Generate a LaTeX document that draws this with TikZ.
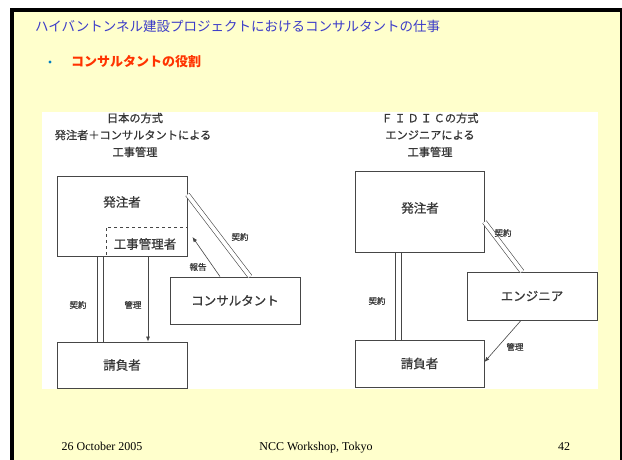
\documentclass[tikz,border=0pt]{standalone}
\usepackage{fontspec}
\setmainfont{Liberation Serif}
\newfontfamily\jp{Noto Sans CJK JP}
\newfontfamily\jpd[FakeBold=0.7]{Noto Sans CJK JP}
\usetikzlibrary{calc,arrows.meta}
\definecolor{slidebg}{RGB}{255,255,204}
\definecolor{titleblue}{RGB}{60,60,200}
\definecolor{bulletred}{RGB}{255,51,0}
\definecolor{dotblue}{RGB}{0,128,192}
\definecolor{ink}{RGB}{55,55,55}
\definecolor{lineink}{RGB}{70,70,70}
\begin{document}
\begin{tikzpicture}[x=1pt,y=-1pt,
  box/.style={draw=lineink,line width=0.9pt,inner sep=0pt,text=ink,font=\jpd\fontsize{12.5}{14}\selectfont},
  boxtext/.style={text=ink,inner sep=0pt,font=\jpd\fontsize{12.5}{14}\selectfont},
  dashbox/.style={draw=lineink,line width=0.9pt,dashed,inner sep=0pt},
  dbl/.style={draw=lineink,double=white,double distance=3.8pt,line width=0.6pt},
  thin/.style={draw=lineink,line width=0.6pt},
  arr/.style={draw=lineink,line width=0.6pt,-{Latex[length=5pt,width=4pt]}},
  lbl/.style={text=ink,inner sep=0pt,font=\jpd\fontsize{8.5}{10}\selectfont},
  ttl/.style={text=ink,inner sep=0pt,font=\jpd\fontsize{11.2}{12}\selectfont},
  foot/.style={inner sep=0pt,anchor=base,font=\fontsize{12}{14}\selectfont}]
\useasboundingbox (0,0) rectangle (622,459);
\fill[white] (0,0) rectangle (622,459);
\begin{scope}
  \clip (0,0) rectangle (622,459);
  \fill[black] (10,8) rectangle (622,470);
  \fill[slidebg] (14,12) rectangle (620,470);
\end{scope}
% heading
\node[anchor=west,inner sep=0pt,text=titleblue,font=\jp\fontsize{13.5}{15}\selectfont] (title) at (35,26)
  {ハイバントンネル建設プロジェクトにおけるコンサルタントの仕事};
\node[circle,fill=dotblue,inner sep=0pt,minimum size=3.2pt] (dot) at (50,62) {};
\node[anchor=west,inner sep=0pt,text=bulletred,font=\jp\bfseries\fontsize{13}{15}\selectfont] (role) at (71,62)
  {コンサルタントの役割};
% picture panel
\fill[white] (42,112) rectangle (598,389);
% ---- left diagram
\node[ttl] (lt1) at (135,118) {日本の方式};
\node[ttl] (lt2) at (133,135) {発注者＋コンサルタントによる};
\node[ttl] (lt3) at (135,152) {工事管理};
\node[dashbox,minimum width=81pt,minimum height=29pt] (kanri) at (146.5,241.5) {};
\node[box,minimum width=130pt,minimum height=80pt] (hacchu) at (122,216) {};
\node[boxtext] (hacchuL) at (122,202) {発注者};
\node[boxtext] (kanriL) at (145,244) {工事管理者};
\node[box,minimum width=130pt,minimum height=46pt] (uke) at (122,365) {請負者};
\node[box,minimum width=130pt,minimum height=47pt] (consul) at (235,300.5) {コンサルタント};
\draw[thin] ($(hacchu.south)+(-25,0)$) -- ($(uke.north)+(-25,0)$);
\draw[thin] ($(hacchu.south)+(-19,0)$) -- ($(uke.north)+(-19,0)$);
\draw[arr] ($(hacchu.south)+(26,0)$) -- ($(uke.north)+(26,0)$);
\draw[dbl] ($(hacchu.north east)+(0,19)$) -- ($(consul.north)+(15,0)$);
\draw[arr] ($(consul.north)+(-15,0)$) -- ($(hacchu.east)+(5,21)$);
\node[lbl] (l1) at (78,305) {契約};
\node[lbl] (l2) at (133,305) {管理};
\node[lbl] (l3) at (240,237) {契約};
\node[lbl] (l4) at (198,267) {報告};
% ---- right diagram
\node[ttl] (rt1) at (430,118) {Ｆ\,Ｉ\,Ｄ\,Ｉ\,Ｃの方式};
\node[ttl] (rt2) at (430,135) {エンジニアによる};
\node[ttl] (rt3) at (430,152) {工事管理};
\node[box,minimum width=129pt,minimum height=81pt] (hacchu2) at (419.5,211.5) {};
\node[boxtext] (hacchu2L) at (420,208) {発注者};
\node[box,minimum width=129pt,minimum height=47pt] (uke2) at (419.5,363.5) {請負者};
\node[box,minimum width=130pt,minimum height=48pt] (eng) at (532,296) {エンジニア};
\draw[thin] ($(hacchu2.south)+(-24.5,0)$) -- ($(uke2.north)+(-24.5,0)$);
\draw[thin] ($(hacchu2.south)+(-18.5,0)$) -- ($(uke2.north)+(-18.5,0)$);
\draw[dbl] ($(hacchu2.east)+(0,10.5)$) -- ($(eng.north)+(-10,0)$);
\draw[arr] ($(eng.south)+(-11,0)$) -- ($(uke2.east)+(0,-1.5)$);
\node[lbl] (r1) at (377,301) {契約};
\node[lbl] (r2) at (503,233) {契約};
\node[lbl] (r3) at (515,347) {管理};
% footer
\node[foot] (date) at (102,450) {26 October 2005};
\node[foot] (event) at (316,450) {NCC Workshop, Tokyo};
\node[foot] (page) at (564,450) {42};
\end{tikzpicture}
\end{document}
